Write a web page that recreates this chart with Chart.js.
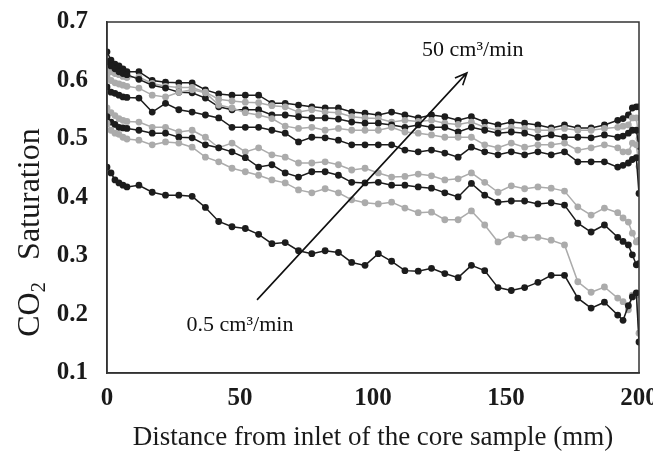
<!DOCTYPE html>
<html>
<head>
<meta charset="utf-8">
<script src="https://cdn.jsdelivr.net/npm/chart.js@4.4.1/dist/chart.umd.min.js"></script>
<style>
    body { margin: 0; background: #fff; }
    #satChart { display: block; }
</style>
</head>
<body>
<canvas id="satChart" width="653" height="451"></canvas>
<script>
var distances = [0, 1.5, 3, 4.5, 6, 7.5,
    12, 17, 22, 27, 32, 37, 42, 47, 52, 57,
    62, 67, 72, 77, 82, 87, 92, 97, 102, 107,
    112, 117, 122, 127, 132, 137, 142, 147, 152, 157,
    162, 167, 172, 177, 182, 187, 192,
    194, 196, 197.5, 199, 200];

// series from lowest (0.5 cm3/min) to highest (50 cm3/min) rate
var s1 = [0.452, 0.442, 0.430, 0.425, 0.421, 0.418,
    0.421, 0.409, 0.404, 0.404, 0.402, 0.383, 0.359, 0.350, 0.347, 0.337,
    0.321, 0.323, 0.309, 0.304, 0.309, 0.306, 0.289, 0.284, 0.304, 0.291,
    0.275, 0.274, 0.279, 0.270, 0.263, 0.284, 0.275, 0.246, 0.241, 0.246,
    0.255, 0.267, 0.267, 0.228, 0.211, 0.221, 0.199,
    0.190, 0.215, 0.230, 0.237, 0.153];
var s2 = [0.527, 0.515, 0.510, 0.508, 0.503, 0.500,
    0.498, 0.490, 0.495, 0.493, 0.486, 0.469, 0.461, 0.450, 0.444, 0.438,
    0.430, 0.425, 0.413, 0.408, 0.415, 0.408, 0.396, 0.391, 0.389, 0.392,
    0.382, 0.374, 0.375, 0.362, 0.362, 0.377, 0.353, 0.324, 0.336, 0.331,
    0.332, 0.327, 0.319, 0.256, 0.238, 0.247, 0.228,
    0.222, 0.208, 0.233, 0.233, 0.168];
var s3 = [0.538, 0.529, 0.525, 0.520, 0.519, 0.518,
    0.515, 0.510, 0.510, 0.503, 0.502, 0.490, 0.485, 0.478, 0.468, 0.452,
    0.456, 0.442, 0.435, 0.444, 0.444, 0.438, 0.426, 0.425, 0.426, 0.421,
    0.421, 0.418, 0.416, 0.408, 0.401, 0.424, 0.404, 0.392, 0.394, 0.394,
    0.389, 0.391, 0.387, 0.356, 0.341, 0.353, 0.332,
    0.325, 0.319, 0.302, 0.285, 0.287];
var s4 = [0.553, 0.545, 0.540, 0.535, 0.532, 0.530,
    0.529, 0.520, 0.520, 0.512, 0.515, 0.503, 0.485, 0.493, 0.478, 0.485,
    0.473, 0.469, 0.459, 0.459, 0.461, 0.456, 0.447, 0.450, 0.442, 0.435,
    0.436, 0.440, 0.437, 0.430, 0.432, 0.442, 0.426, 0.409, 0.420, 0.415,
    0.418, 0.416, 0.411, 0.384, 0.370, 0.382, 0.374,
    0.365, 0.358, 0.339, 0.324, 0.327];
var s5 = [0.589, 0.580, 0.578, 0.575, 0.572, 0.571,
    0.570, 0.546, 0.561, 0.550, 0.546, 0.541, 0.536, 0.520, 0.520, 0.520,
    0.515, 0.510, 0.495, 0.503, 0.502, 0.498, 0.490, 0.490, 0.490, 0.490,
    0.481, 0.478, 0.481, 0.476, 0.469, 0.486, 0.478, 0.473, 0.478, 0.473,
    0.478, 0.473, 0.478, 0.461, 0.461, 0.461, 0.452,
    0.455, 0.459, 0.465, 0.468, 0.407];
var s6 = [0.607, 0.600, 0.596, 0.594, 0.592, 0.590,
    0.587, 0.575, 0.572, 0.580, 0.584, 0.579, 0.558, 0.553, 0.545, 0.541,
    0.535, 0.522, 0.518, 0.520, 0.515, 0.518, 0.515, 0.515, 0.515, 0.520,
    0.512, 0.510, 0.507, 0.503, 0.503, 0.503, 0.490, 0.485, 0.493, 0.486,
    0.490, 0.490, 0.493, 0.481, 0.485, 0.490, 0.485,
    0.478, 0.478, 0.493, 0.490, 0.453];
var s7 = [0.632, 0.625, 0.620, 0.615, 0.612, 0.610,
    0.602, 0.592, 0.587, 0.580, 0.579, 0.570, 0.555, 0.550, 0.550, 0.550,
    0.541, 0.541, 0.538, 0.536, 0.536, 0.534, 0.529, 0.527, 0.527, 0.524,
    0.520, 0.524, 0.520, 0.520, 0.512, 0.520, 0.515, 0.510, 0.512, 0.510,
    0.503, 0.507, 0.503, 0.503, 0.502, 0.507, 0.503,
    0.505, 0.510, 0.515, 0.515, 0.487];
var s8 = [0.620, 0.615, 0.612, 0.610, 0.607, 0.605,
    0.606, 0.595, 0.590, 0.588, 0.588, 0.580, 0.568, 0.565, 0.563, 0.562,
    0.557, 0.555, 0.546, 0.550, 0.546, 0.545, 0.538, 0.536, 0.535, 0.529,
    0.532, 0.530, 0.532, 0.527, 0.525, 0.529, 0.520, 0.515, 0.520, 0.518,
    0.515, 0.515, 0.518, 0.515, 0.515, 0.518, 0.520,
    0.522, 0.524, 0.536, 0.536, 0.500];
var s9 = [0.649, 0.635, 0.628, 0.625, 0.620, 0.615,
    0.615, 0.600, 0.597, 0.596, 0.596, 0.584, 0.577, 0.575, 0.575, 0.575,
    0.561, 0.561, 0.558, 0.555, 0.553, 0.553, 0.546, 0.544, 0.541, 0.546,
    0.541, 0.536, 0.541, 0.538, 0.532, 0.538, 0.529, 0.524, 0.529, 0.527,
    0.524, 0.519, 0.524, 0.519, 0.519, 0.524, 0.532,
    0.535, 0.541, 0.553, 0.555, 0.555];

var seriesList = [s1, s2, s3, s4, s5, s6, s7, s8, s9];
var xTicks = [0, 50, 100, 150, 200];
var yTicks = [0.1, 0.2, 0.3, 0.4, 0.5, 0.6, 0.7];

// arrow and its two labels, in data units
var arrowFrom = { x: 56.4, y: 0.225 };
var arrowTo = { x: 135.3, y: 0.613 };
var lowLabel = { x: 50, y: 0.182, text: '0.5 cm\u00b3/min' };
var highLabel = { x: 137.5, y: 0.652, text: '50 cm\u00b3/min' };

var SERIF = '"Liberation Serif", "Times New Roman", serif';
var BLACK = '#1c1c1c';
var GRAY = '#ababab';

function toPoints(values) {
    var pts = [];
    for (var i = 0; i < values.length; i++) {
        pts.push({ x: distances[i], y: values[i] });
    }
    return pts;
}

var datasets = [];
seriesList.forEach(function (values, i) {
    var color = i % 2 === 0 ? BLACK : GRAY;
    datasets.push({
        data: toPoints(values),
        borderColor: color,
        backgroundColor: color,
        pointBackgroundColor: color,
        pointBorderColor: color,
        borderWidth: 1.5,
        pointRadius: 3.4,
        pointBorderWidth: 0,
        tension: 0
    });
});

function drawYTitle(ctx, area) {
    var cx = 28;
    var cy = area.top + (area.bottom - area.top) * 0.6;
    var big = '32px ' + SERIF;
    var small = '21px ' + SERIF;
    ctx.save();
    ctx.font = big;
    var wCO = ctx.measureText('CO').width;
    var wSat = ctx.measureText('Saturation').width;
    ctx.font = small;
    var w2 = ctx.measureText('2').width;
    var gap = 22;
    var total = wCO + w2 + gap + wSat;

    ctx.translate(cx, cy);
    ctx.rotate(-Math.PI / 2);
    ctx.fillStyle = '#1a1a1a';
    ctx.textBaseline = 'alphabetic';
    ctx.textAlign = 'left';
    var start = -total / 2;
    var base = 11;
    ctx.font = big;
    ctx.fillText('CO', start, base);
    ctx.font = small;
    ctx.fillText('2', start + wCO, base + 6);
    ctx.font = big;
    ctx.fillText('Saturation', start + wCO + w2 + gap, base);
    ctx.restore();
}

var overlayPlugin = {
    id: 'overlay',
    afterDatasetsDraw: function (chart) {
        var ctx = chart.ctx;
        var xs = chart.scales.x;
        var ys = chart.scales.y;
        var area = chart.chartArea;

        // box around plot
        ctx.save();
        ctx.strokeStyle = '#333';
        ctx.lineWidth = 1.5;
        ctx.strokeRect(area.left, area.top, area.right - area.left, area.bottom - area.top);

        var x0 = xs.getPixelForValue(arrowFrom.x), y0 = ys.getPixelForValue(arrowFrom.y);
        var x1 = xs.getPixelForValue(arrowTo.x), y1 = ys.getPixelForValue(arrowTo.y);
        ctx.strokeStyle = '#111';
        ctx.lineWidth = 1.6;
        ctx.beginPath();
        ctx.moveTo(x0, y0);
        ctx.lineTo(x1, y1);
        var ang = Math.atan2(y1 - y0, x1 - x0);
        var head = 13;
        ctx.moveTo(x1 - head * Math.cos(ang - 0.42), y1 - head * Math.sin(ang - 0.42));
        ctx.lineTo(x1, y1);
        ctx.lineTo(x1 - head * Math.cos(ang + 0.42), y1 - head * Math.sin(ang + 0.42));
        ctx.stroke();

        ctx.fillStyle = '#111';
        ctx.font = '22px ' + SERIF;
        ctx.textAlign = 'center';
        ctx.textBaseline = 'middle';
        ctx.fillText(lowLabel.text, xs.getPixelForValue(lowLabel.x), ys.getPixelForValue(lowLabel.y));
        ctx.fillText(highLabel.text, xs.getPixelForValue(highLabel.x), ys.getPixelForValue(highLabel.y));
        ctx.restore();

        drawYTitle(ctx, area);
    }
};

var satChart = new Chart(document.getElementById('satChart'), {
    type: 'line',
    data: { datasets: datasets },
    options: {
        responsive: false,
        animation: false,
        layout: { padding: { top: 22, right: 14, left: 0, bottom: 0 } },
        plugins: {
            legend: { display: false },
            tooltip: { enabled: false }
        },
        scales: {
            x: {
                type: 'linear',
                min: 0,
                max: 200,
                afterBuildTicks: function (scale) {
                    scale.ticks = xTicks.map(function (v) { return { value: v }; });
                },
                afterFit: function (scale) {
                    scale.height = 78;
                    scale.paddingLeft = 0;
                    scale.paddingRight = 0;
                },
                grid: { display: false, drawTicks: false },
                border: { display: true, color: '#333', width: 1.5 },
                ticks: {
                    padding: 11,
                    color: '#1a1a1a',
                    font: { family: SERIF, size: 25, weight: 'bold' }
                },
                title: {
                    display: true,
                    text: 'Distance from inlet of the core sample (mm)',
                    color: '#1a1a1a',
                    font: { family: SERIF, size: 27, lineHeight: 1.0 },
                    padding: { top: 0, bottom: 0 }
                }
            },
            y: {
                min: 0.1,
                max: 0.7,
                afterBuildTicks: function (scale) {
                    scale.ticks = yTicks.map(function (v) { return { value: v }; });
                },
                afterFit: function (scale) {
                    scale.width = 107;
                    scale.paddingTop = 0;
                    scale.paddingBottom = 0;
                },
                grid: { display: false, drawTicks: false },
                border: { display: true, color: '#333', width: 1.5 },
                ticks: {
                    padding: 19,
                    color: '#1a1a1a',
                    font: { family: SERIF, size: 25, weight: 'bold' },
                    callback: function (v) { return v.toFixed(1); }
                },
                title: { display: false }
            }
        }
    },
    plugins: [overlayPlugin]
});
</script>
</body>
</html>
